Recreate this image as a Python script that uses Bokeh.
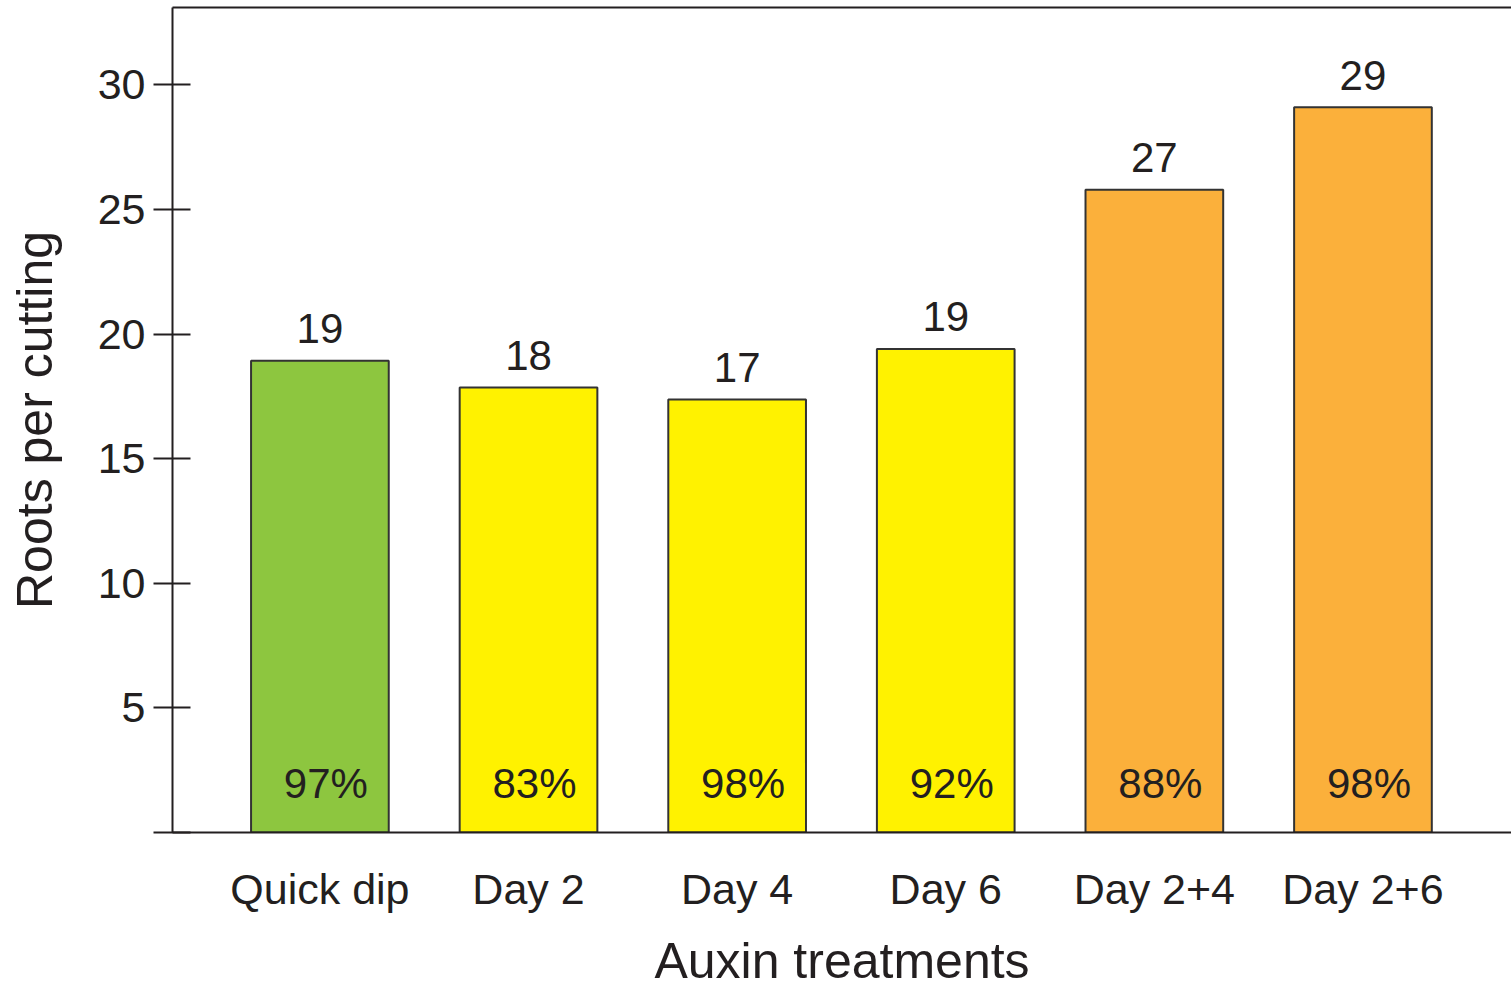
from bokeh.plotting import figure
from bokeh.models import ColumnDataSource, Range1d, FixedTicker, LinearAxis
from bokeh.core.properties import value
from bokeh.embed import file_html
from bokeh.resources import INLINE

categories = ["Quick dip", "Day 2", "Day 4", "Day 6", "Day 2+4", "Day 2+6"]
roots = [18.93, 17.85, 17.37, 19.40, 25.79, 29.10]
value_labels = ["19", "18", "17", "19", "27", "29"]
rooting_pct = ["97%", "83%", "98%", "92%", "88%", "98%"]
colors = ["#8DC63F", "#FFF200", "#FFF200", "#FFF200", "#FBB03B", "#FBB03B"]
y_ticks = [0, 5, 10, 15, 20, 25, 30]
x_title = "Auxin treatments"
y_title = "Roots per cutting"

FONT = "Liberation Sans"
INK = "#231F20"

idx = list(range(len(categories)))
src = ColumnDataSource(dict(x=idx, top=roots, lab=value_labels, pct=rooting_pct, color=colors))

x0, x1 = -0.7066, 5.712
p = figure(width=1511, height=991, output_backend="svg", toolbar_location=None,
           x_range=Range1d(x0, x1), y_range=Range1d(0, 33.1),
           min_border_left=172, min_border_right=0, min_border_top=7, min_border_bottom=159,
           x_axis_label=x_title, y_axis_label=y_title)
p.grid.visible = False
p.outline_line_color = None
p.background_fill_color = "white"
p.border_fill_color = "white"

p.vbar(x="x", top="top", bottom=0, width=0.66, source=src, fill_color="color",
       line_color="#333333", line_width=2)

p.text(x="x", y="top", text="lab", source=src, text_align="center", text_baseline="alphabetic",
       y_offset=-32, text_font_size="42px", text_font=value(FONT), text_color=INK)
p.text(x="x", y=0, text="pct", source=src, text_align="center", text_baseline="alphabetic",
       x_offset=6, y_offset=-49, text_font_size="42px", text_font=value(FONT), text_color=INK)

# y axis
ya = p.yaxis[0]
ya.ticker = FixedTicker(ticks=y_ticks)
ya.major_label_overrides = {0: ""}
ya.minor_tick_line_color = None
ya.major_tick_in = 18
ya.major_tick_out = 19
ya.major_tick_line_width = 2
ya.major_tick_line_color = INK
ya.axis_line_width = 2
ya.axis_line_color = INK
ya.major_label_text_font = FONT
ya.major_label_text_font_size = "43px"
ya.major_label_text_color = INK
ya.major_label_standoff = 8
ya.axis_label_text_font = FONT
ya.axis_label_text_font_size = "50px"
ya.axis_label_text_font_style = "normal"
ya.axis_label_text_color = INK
ya.axis_label_standoff = 32

# x axis
xa = p.xaxis[0]
xa.ticker = FixedTicker(ticks=idx)
xa.major_label_overrides = {i: c for i, c in zip(idx, categories)}
xa.major_tick_line_color = None
xa.minor_tick_line_color = None
xa.major_tick_in = 0
xa.major_tick_out = 0
xa.axis_line_width = 2
xa.axis_line_color = INK
xa.major_label_text_font = FONT
xa.major_label_text_font_size = "43px"
xa.major_label_text_color = INK
xa.major_label_standoff = 32
xa.axis_label_text_font = FONT
xa.axis_label_text_font_size = "50px"
xa.axis_label_text_font_style = "normal"
xa.axis_label_text_color = INK
xa.axis_label_standoff = 17

# top border line
top = LinearAxis(axis_line_width=2, axis_line_color=INK, major_tick_line_color=None,
                 minor_tick_line_color=None, major_label_text_font_size="0px",
                 major_tick_in=0, major_tick_out=0, major_label_standoff=0)
top.ticker = FixedTicker(ticks=[])
p.add_layout(top, "above")

open("out.html", "w").write(file_html(p, INLINE))
